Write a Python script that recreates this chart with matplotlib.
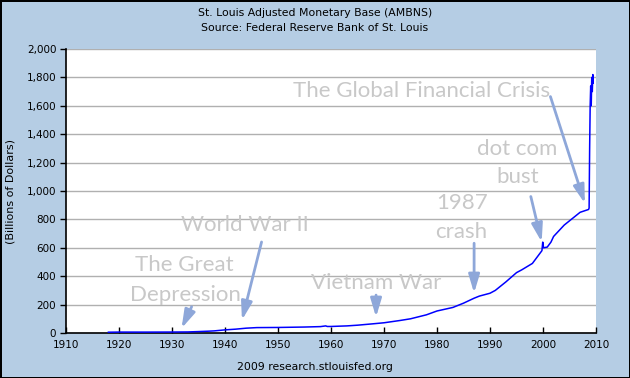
import matplotlib
matplotlib.use("Agg")
import matplotlib.pyplot as plt
from matplotlib.ticker import FuncFormatter

# ---- data (billions of dollars) ----
years = [1918.0, 1920.0, 1925.0, 1930.0, 1933.0, 1935.0, 1937.0, 1938.0, 1940.0,
         1942.0, 1944.0, 1946.0, 1950.0, 1955.0, 1958.0, 1959.0, 1959.3, 1960.0,
         1963.0, 1965.0, 1968.0, 1970.0, 1973.0, 1975.0, 1978.0, 1980.0, 1983.0,
         1985.0, 1987.0, 1988.0, 1990.0, 1991.0, 1993.0, 1995.0, 1996.0, 1998.0,
         1999.8, 1999.95, 2000.1, 2000.8, 2001.5, 2002.0, 2003.0, 2004.0, 2005.0,
         2006.0, 2007.0, 2008.6, 2008.7, 2008.8, 2008.9, 2009.0, 2009.1, 2009.2,
         2009.3, 2009.4, 2009.45]
base = [5.5, 6.5, 6.3, 6.8, 7.5, 10, 13, 15, 22,
        27, 34, 38, 39, 42, 45, 50, 46, 46,
        50, 55, 65, 72, 88, 100, 128, 155, 180,
        210, 245, 260, 280, 300, 360, 425, 445, 490,
        580, 640, 600, 605, 640, 680, 720, 760, 790,
        820, 850, 870, 880, 1300, 1600, 1740, 1600, 1800,
        1700, 1820, 1760]

x_ticks = list(range(1910, 2011, 10))
y_ticks = list(range(0, 2001, 200))

title_lines = ["St. Louis Adjusted Monetary Base (AMBNS)",
               "Source: Federal Reserve Bank of St. Louis"]
y_label = "(Billions of Dollars)"
footer = "2009 research.stlouisfed.org"

# annotations: (text, text_x, text_y) in data units
notes = [
    ("The Global Financial Crisis", 1977.0, 1705),
    ("dot com", 1995.1, 1298),
    ("bust", 1995.3, 1097),
    ("1987", 1984.7, 914),
    ("crash", 1984.6, 711),
    ("World War II", 1943.7, 758),
    ("The Great", 1932.4, 477),
    ("Depression", 1932.5, 267),
    ("Vietnam War", 1968.6, 349),
]
arrows = [
    ((2001.4, 1665), (2007.9, 912)),
    ((1997.7, 961), (1999.75, 641)),
    ((1987.0, 632), (1987.0, 281)),
    ((1968.5, 267), (1968.5, 112)),
    ((1946.9, 641), (1943.2, 91)),
    ((1933.7, 185), (1931.8, 33)),
]

bg = "#b5cde4"
fig = plt.figure(figsize=(6.3, 3.78), dpi=100, facecolor=bg,
                 edgecolor="black", linewidth=2)
ax = fig.add_axes([66 / 630, 1 - 333 / 378, (596 - 66) / 630, (333 - 49) / 378])
ax.set_facecolor("white")

ax.plot(years, base, color="#0000ff", lw=1.1, zorder=3)

ax.set_xlim(1910, 2010)
ax.set_ylim(0, 2000)
ax.set_xticks(x_ticks)
ax.set_yticks(y_ticks)
ax.yaxis.set_major_formatter(FuncFormatter(lambda v, p: f"{int(v):,}"))
ax.grid(axis="y", color="#b0b0b0", lw=1.0)
ax.set_axisbelow(True)
for s in ["top", "right"]:
    ax.spines[s].set_visible(False)
for s in ["left", "bottom"]:
    ax.spines[s].set_linewidth(1.2)
ax.tick_params(axis="x", direction="in", length=4, labelsize=7.5, pad=5, width=1)
ax.tick_params(axis="y", direction="out", length=4, labelsize=7.5, pad=3, width=1)
ax.set_ylabel(y_label, fontsize=8, labelpad=8)

fig.text(0.5, 1 - 13 / 378, title_lines[0], ha="center", va="center", fontsize=7.8)
fig.text(0.5, 1 - 28 / 378, title_lines[1], ha="center", va="center", fontsize=7.8)
fig.text(0.5, 1 - 367 / 378, footer, ha="center", va="center", fontsize=7.8)

for txt, tx, ty in notes:
    ax.text(tx, ty, txt, ha="center", va="center", fontsize=16,
            family="Lato", color="#c8c8c8", zorder=4)

for (sx, sy), (ex, ey) in arrows:
    ax.annotate("", xy=(ex, ey), xytext=(sx, sy),
                arrowprops=dict(arrowstyle="-|>,head_length=1.1,head_width=0.33",
                                color="#8ea7d9", lw=2, shrinkA=0, shrinkB=0),
                zorder=5)

fig.savefig("out.png", dpi=100, facecolor=bg, edgecolor="black")
